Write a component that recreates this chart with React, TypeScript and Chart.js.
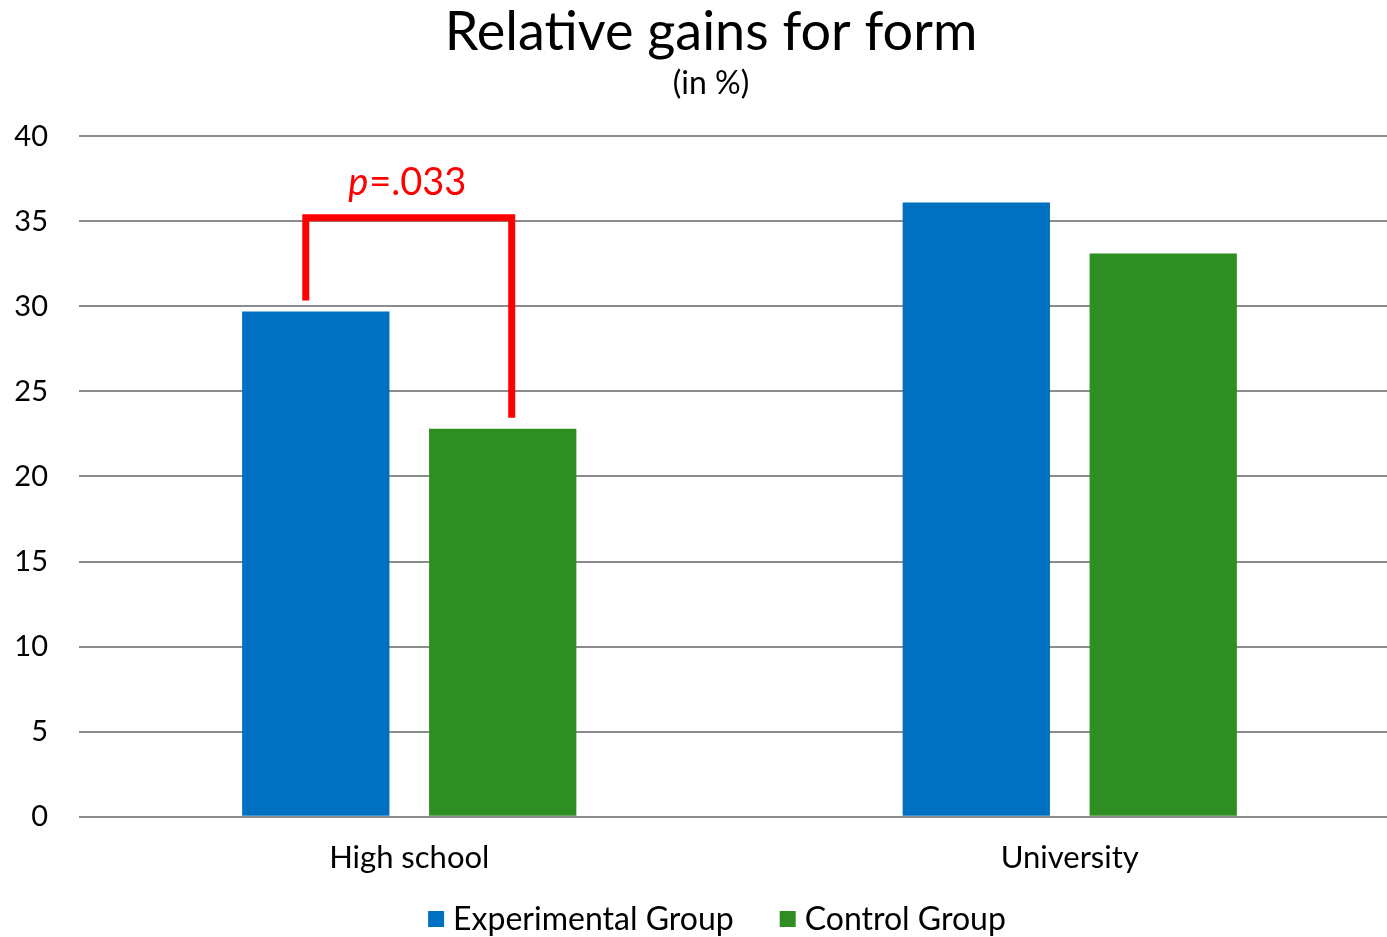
import React, { useEffect, useRef } from "react";
import { Chart, registerables } from "chart.js";

Chart.register(...registerables);

const categories = ["High school", "University"];
const experimental = [29.7, 36.1];
const control = [22.8, 33.1];
const seriesNames = ["Experimental Group", "Control Group"];
const yTicks = [0, 5, 10, 15, 20, 25, 30, 35, 40];

// significance bracket between the two high-school bars
const bracketCategory = 0;
const bracketLevel = 35.2;
const bracketLabelItalic = "p";
const bracketLabelRest = "=.033";

const FONT = "Lato, 'Open Sans', sans-serif";
const BLUE = "#0070C0";
const GREEN = "#2F8E21";
const GRID = "#8C8C8C";
const RED = "#FF0000";

// nudges the title and subtitle a little to the right of the canvas centre
const headerShift = 11;

const shiftPlugin = {
  id: "shiftBlocks",
  afterLayout(chart: any) {
    for (const box of chart.boxes) {
      if (box.axis) continue;
      box.left += headerShift;
      box.right += headerShift;
    }
  },
};

// bottom legend: square swatch, label, wide spacing between entries
const legendPlugin = {
  id: "bottomLegend",
  afterDraw(chart: any) {
    const ctx = chart.ctx;
    const box = 16;
    const textGap = 9;
    const itemGap = 46;
    const centerX = 717;
    const centerY = 919;
    ctx.save();
    ctx.font = `32px ${FONT}`;
    ctx.textBaseline = "middle";
    ctx.textAlign = "left";
    const items = chart.data.datasets.map((ds: any) => ({
      text: ds.label,
      color: ds.backgroundColor,
      w: box + textGap + ctx.measureText(ds.label).width,
    }));
    const total =
      items.reduce((s: number, it: any) => s + it.w, 0) + itemGap * (items.length - 1);
    let x = centerX - total / 2;
    for (const it of items) {
      ctx.fillStyle = it.color;
      ctx.fillRect(x, centerY - box / 2, box, box);
      ctx.fillStyle = "#000";
      ctx.fillText(it.text, x + box + textGap, centerY + 1);
      x += it.w + itemGap;
    }
    ctx.restore();
  },
};

const bracketPlugin = {
  id: "sigBracket",
  afterDatasetsDraw(chart: any) {
    const y = chart.scales.y;
    const b0 = chart.getDatasetMeta(0).data[bracketCategory];
    const b1 = chart.getDatasetMeta(1).data[bracketCategory];
    if (!b0 || !b1) return;
    const gap = 11;
    const xl = b0.x - 10;
    const xr = b1.x + 9;
    const yTop = y.getPixelForValue(bracketLevel);
    const yl = y.getPixelForValue(experimental[bracketCategory]) - gap;
    const yr = y.getPixelForValue(control[bracketCategory]) - gap;
    const ctx = chart.ctx;
    ctx.save();
    ctx.strokeStyle = RED;
    ctx.lineWidth = 7;
    ctx.lineJoin = "miter";
    ctx.lineCap = "butt";
    ctx.beginPath();
    ctx.moveTo(xl, yl);
    ctx.lineTo(xl, yTop);
    ctx.lineTo(xr, yTop);
    ctx.lineTo(xr, yr);
    ctx.stroke();

    ctx.fillStyle = RED;
    ctx.textBaseline = "alphabetic";
    ctx.textAlign = "left";
    const italicFont = `italic 38px ${FONT}`;
    const normalFont = `38px ${FONT}`;
    ctx.font = italicFont;
    const w1 = ctx.measureText(bracketLabelItalic).width;
    ctx.font = normalFont;
    const w2 = ctx.measureText(bracketLabelRest).width;
    const cx = (b0.x + b1.x) / 2 - 2;
    const startX = cx - (w1 + w2 + 1) / 2;
    const baseY = yTop - 23;
    ctx.font = italicFont;
    ctx.fillText(bracketLabelItalic, startX, baseY);
    ctx.font = normalFont;
    ctx.fillText(bracketLabelRest, startX + w1 + 1, baseY);
    ctx.restore();
  },
};

export default function App() {
  const canvasRef = useRef<HTMLCanvasElement | null>(null);

  useEffect(() => {
    document.body.style.margin = "0";
    document.body.style.overflow = "hidden";
    const canvas = canvasRef.current;
    if (!canvas) return;
    const chart = new Chart(canvas, {
      type: "bar",
      data: {
        labels: categories,
        datasets: [
          {
            label: seriesNames[0],
            data: experimental,
            backgroundColor: BLUE,
            categoryPercentage: 0.566,
            barPercentage: 0.788,
          },
          {
            label: seriesNames[1],
            data: control,
            backgroundColor: GREEN,
            categoryPercentage: 0.566,
            barPercentage: 0.788,
          },
        ],
      },
      options: {
        animation: false,
        responsive: true,
        maintainAspectRatio: false,
        layout: { padding: { left: 0, right: 0, top: 0, bottom: 37 } },
        plugins: {
          title: {
            display: true,
            text: "Relative gains for form",
            color: "#000",
            font: { family: FONT, size: 54, weight: "normal" },
            padding: { top: 0, bottom: 0 },
          },
          subtitle: {
            display: true,
            text: "(in %)",
            color: "#000",
            font: { family: FONT, size: 32, weight: "normal" },
            padding: { top: 0, bottom: 33 },
          },
          legend: { display: false },
          tooltip: { enabled: false },
        },
        scales: {
          x: {
            grid: { display: false, drawTicks: false },
            border: { display: false },
            ticks: {
              color: "#000",
              font: { family: FONT, size: 31 },
              padding: 23,
            },
          },
          y: {
            min: 0,
            max: 40,
            afterBuildTicks(axis: any) {
              axis.ticks = yTicks.map((v) => ({ value: v }));
            },
            afterFit(axis: any) {
              axis.width = 79;
            },
            grid: { color: GRID, lineWidth: 2, drawTicks: false },
            border: { display: false },
            ticks: {
              color: "#000",
              font: { family: FONT, size: 29 },
              padding: 31,
            },
          },
        },
      },
      plugins: [shiftPlugin, bracketPlugin, legendPlugin],
    } as any);
    return () => chart.destroy();
  }, []);

  return (
    <div style={{ position: "fixed", left: 0, top: 0, width: 1400, height: 937, background: "#fff" }}>
      <canvas ref={canvasRef} />
    </div>
  );
}
